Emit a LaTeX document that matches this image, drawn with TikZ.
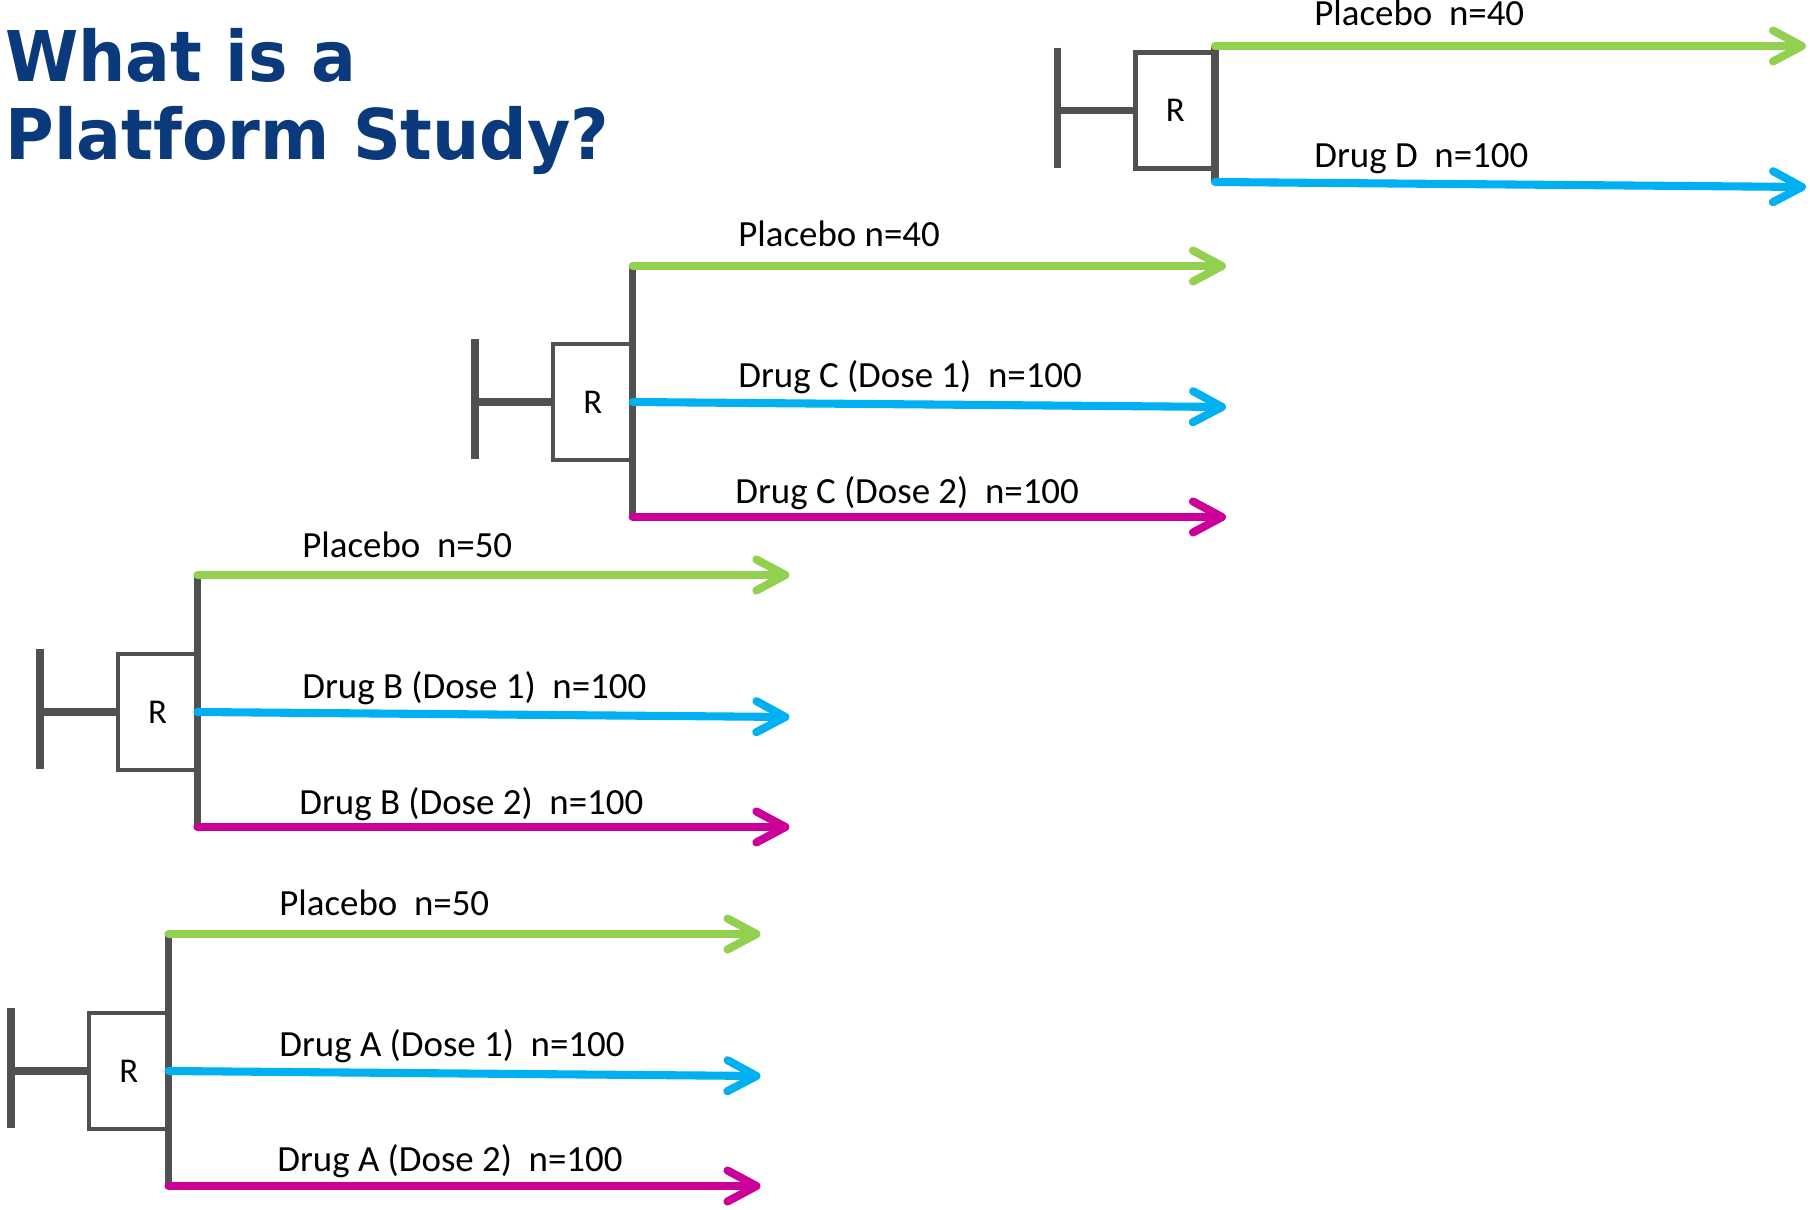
\documentclass[tikz,border=0pt]{standalone}
\usepackage{fontspec}
\setmainfont{Carlito}
\newfontfamily\headingfont[FakeStretch=0.95]{DejaVu Sans}
\usetikzlibrary{arrows.meta}

\definecolor{headingblue}{HTML}{0B3A7C}
\definecolor{bargray}{HTML}{505050}
\definecolor{placebogreen}{HTML}{92D050}
\definecolor{doseblue}{HTML}{00B0F0}
\definecolor{dosemagenta}{HTML}{CC0099}

\begin{document}
\begin{tikzpicture}[
      x=0.02cm,y=-0.02cm,
      rbox/.style={draw=bargray,line width=2.6pt,minimum width=1.59cm,minimum height=2.32cm,inner sep=0pt,outer sep=0pt,font=\fontsize{19.8}{22}\selectfont},
      bar/.style={draw=bargray,line width=4.3pt},
      arm/.style={line width=4.6pt,line cap=round,-{Straight Barb[length=5.8mm,width=6.2mm,round]}},
      lab/.style={anchor=base west,inner sep=0pt,font=\fontsize{21}{25}\selectfont},
      heading/.style={anchor=base west,inner sep=0pt,text=headingblue,font=\headingfont\bfseries\fontsize{39.8}{44}\selectfont}
    ]
      \useasboundingbox (0,0) rectangle (1810,1210);
      \node[heading] (head1) at (5,81) {What is a};
      \node[heading] (head2) at (5,159) {Platform Study?};
      % Drug A
      \node[rbox] (rA) at (128.75,1071) {R};
      \coordinate (lA) at (11,1071);
      \coordinate (tA) at (168.5,934);
      \coordinate (bA) at (168.5,1186);
      \coordinate (pA) at (760.5,934);
      \coordinate (oA) at (760.5,1076);
      \coordinate (wA) at (760.5,1186);
      \draw[bar] (lA) ++(0,-63) -- ++(0,120);
      \draw[bar] (lA) -- (rA.west);
      \draw[bar] (tA) -- (bA);
      \draw[arm,placebogreen] (tA) -- (pA);
      \draw[arm,doseblue] (rA.east) -- (oA);
      \draw[arm,dosemagenta] (bA) -- (wA);
      \node[lab] (pAl) at (279,915) {Placebo~~n=50};
      \node[lab] (oAl) at (279,1056) {Drug A (Dose 1)~~n=100};
      \node[lab] (wAl) at (277,1171) {Drug A (Dose 2)~~n=100};
      % Drug B
      \node[rbox] (rB) at (157.65,712) {R};
      \coordinate (lB) at (40,712);
      \coordinate (tB) at (197.4,575);
      \coordinate (bB) at (197.4,827);
      \coordinate (pB) at (789.4,575);
      \coordinate (oB) at (789.4,717);
      \coordinate (wB) at (789.4,827);
      \draw[bar] (lB) ++(0,-63) -- ++(0,120);
      \draw[bar] (lB) -- (rB.west);
      \draw[bar] (tB) -- (bB);
      \draw[arm,placebogreen] (tB) -- (pB);
      \draw[arm,doseblue] (rB.east) -- (oB);
      \draw[arm,dosemagenta] (bB) -- (wB);
      \node[lab] (pBl) at (302,557) {Placebo~~n=50};
      \node[lab] (oBl) at (302,698) {Drug B (Dose 1)~~n=100};
      \node[lab] (wBl) at (299,814) {Drug B (Dose 2)~~n=100};
      % Drug C
      \node[rbox] (rC) at (592.85,402) {R};
      \coordinate (lC) at (475,402);
      \coordinate (tC) at (632.6,266);
      \coordinate (bC) at (632.6,517);
      \coordinate (pC) at (1226,266);
      \coordinate (oC) at (1226,407);
      \coordinate (wC) at (1226,517);
      \draw[bar] (lC) ++(0,-63) -- ++(0,120);
      \draw[bar] (lC) -- (rC.west);
      \draw[bar] (tC) -- (bC);
      \draw[arm,placebogreen] (tC) -- (pC);
      \draw[arm,doseblue] (rC.east) -- (oC);
      \draw[arm,dosemagenta] (bC) -- (wC);
      \node[lab] (pCl) at (738,246) {Placebo n=40};
      \node[lab] (oCl) at (738,387) {Drug C (Dose 1)~~n=100};
      \node[lab] (wCl) at (735,503) {Drug C (Dose 2)~~n=100};
      % Drug D
      \node[rbox] (rD) at (1175.25,110.5) {R};
      \coordinate (lD) at (1057.5,110.5);
      \coordinate (tD) at (1215,46);
      \coordinate (bD) at (1215,182);
      \coordinate (pD) at (1806,46);
      \coordinate (oD) at (1806,187);
      \draw[bar] (lD) ++(0,-63) -- ++(0,120);
      \draw[bar] (lD) -- (rD.west);
      \draw[bar] (tD) -- (bD);
      \draw[arm,placebogreen] (tD) -- (pD);
      \draw[arm,doseblue] (bD) -- (oD);
      \node[lab] (pDl) at (1314,26) {Placebo~~n=40};
      \node[lab] (oDl) at (1314,167) {Drug D~~n=100};
    \end{tikzpicture}
\end{document}
